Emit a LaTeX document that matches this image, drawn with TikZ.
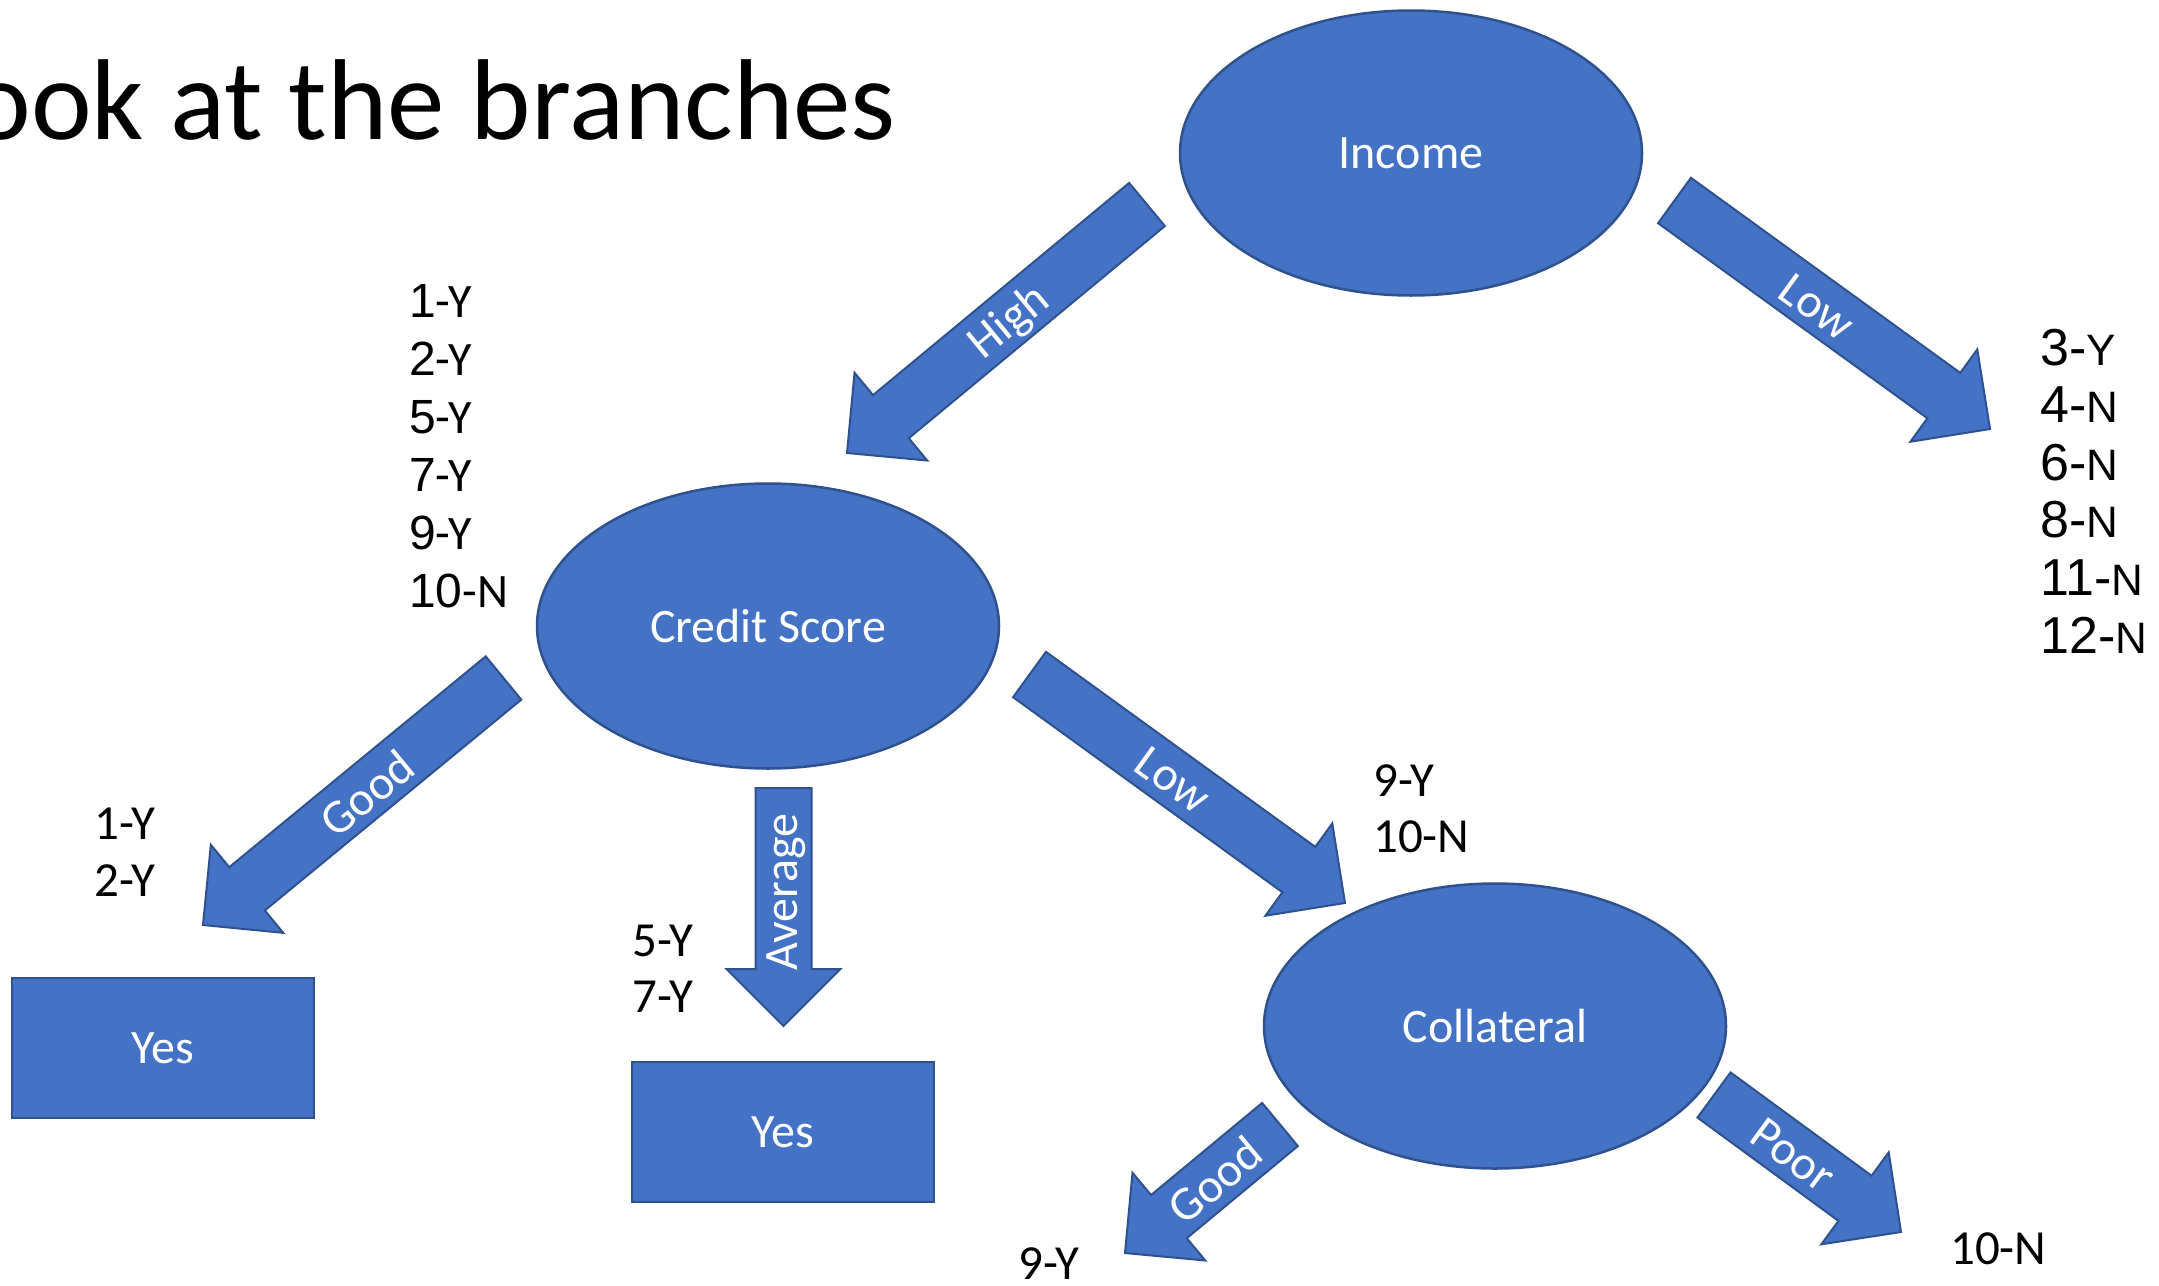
\documentclass[tikz,border=0pt]{standalone}
\usepackage{fontspec}
\setmainfont{Carlito}
\newfontfamily\arialf{Liberation Sans}
\usetikzlibrary{shapes.geometric,calc}

\definecolor{boxblue}{HTML}{4472C4}
\definecolor{edgeblue}{HTML}{2F528F}

% block arrow dimensions
\newcommand\ashaft{28pt}   % half shaft width
\newcommand\ahead{57pt}    % half head width
\newcommand\aheadlen{57pt} % head length

% filled block arrow from a tail coordinate #1 to a tip coordinate #2
\newcommand\blockarrow[2]{%
  \coordinate (#1h) at ($(#2)!\aheadlen!(#1)$);
  \filldraw[blockfill]
    ($(#1)!\ashaft!90:(#2)$) -- ($(#1h)!\ashaft!90:(#2)$) --
    ($(#1h)!\ahead!90:(#2)$) -- (#2) --
    ($(#1h)!\ahead!-90:(#2)$) -- ($(#1h)!\ashaft!-90:(#2)$) --
    ($(#1)!\ashaft!-90:(#2)$) -- cycle;
}

\tikzset{
  blockfill/.style={fill=boxblue, draw=edgeblue, line width=2pt, line join=miter},
  decision/.style={ellipse, fill=boxblue, draw=edgeblue, line width=2.5pt,
    minimum width=462pt, minimum height=285pt, inner sep=0pt,
    text=white, font=\fontsize{48}{58}\selectfont},
  leaf/.style={rectangle, fill=boxblue, draw=edgeblue, line width=2.5pt,
    minimum width=302pt, minimum height=140pt, inner sep=0pt,
    text=white, font=\fontsize{48}{58}\selectfont},
  arrowlabel/.style={text=white, inner sep=0pt, font=\fontsize{48}{58}\selectfont},
  count/.style={anchor=base west, inner sep=0pt, text=black, font=\fontsize{49}{58}\selectfont},
}

\begin{document}
\begin{tikzpicture}[x=1pt,y=-1pt]
\useasboundingbox (0,0) rectangle (2159,1285);
\clip (0,0) rectangle (2159,1285);
\fill[white] (0,0) rectangle (2159,1285);

% title
\node[anchor=base east, inner sep=0pt, font=\fontsize{115}{138}\selectfont] (title) at (896,139) {Look at the branches};

% decision nodes and leaves
\node[decision] (income) at (1411,153) {Income};
\node[decision] (credit) at (768,626) {Credit Score};
\node[decision] (collat) at (1495,1026) {Collateral};
\node[leaf] (yesA) at (163,1048) {Yes};
\node[leaf] (yesB) at (783,1132) {Yes};

% arrow tails and tips
\coordinate (hiT) at (1147,204.5);   \coordinate (hiP) at (847,453);
\coordinate (loT) at (1674.5,200.5); \coordinate (loP) at (1990,429);
\coordinate (gdT) at (503.5,678);    \coordinate (gdP) at (203,925);
\coordinate (avT) at (783.5,788);    \coordinate (avP) at (783.5,1026);
\coordinate (lcT) at (1029.5,674.5); \coordinate (lcP) at (1345,903);
\coordinate (gcT) at (1280,1124.5);  \coordinate (gcP) at (1125,1253);
\coordinate (poT) at (1714,1095);    \coordinate (poP) at (1901,1232);

\blockarrow{hiT}{hiP}
\blockarrow{loT}{loP}
\blockarrow{gdT}{gdP}
\blockarrow{avT}{avP}
\blockarrow{lcT}{lcP}
\blockarrow{gcT}{gcP}
\blockarrow{poT}{poP}

% branch labels
\node[arrowlabel, rotate=39.6]  (hiL) at (1010,323) {High};
\node[arrowlabel, rotate=-35.9] (loL) at (1817,307) {Low};
\node[arrowlabel, rotate=39.4]  (gdL) at (367,793) {Good};
\node[arrowlabel, rotate=90]    (avL) at (786,892) {Average};
\node[arrowlabel, rotate=-35.9] (lcL) at (1173,780) {Low};
\node[arrowlabel, rotate=39.7]  (gcL) at (1215,1180) {Good};
\node[arrowlabel, rotate=-36.2] (poL) at (1793,1155) {Poor};

% records reaching the credit score split
\foreach \n/\c [count=\k from 0] in {1/Y,2/Y,5/Y,7/Y,9/Y,10/N}
  \node[count, font=\fontsize{48}{58}\selectfont] (hiR\k) at (409,317+58*\k) {{\arialf\n}-\c};

% records on the low income branch
\foreach \n/\c [count=\k from 0] in {3/Y,4/N,6/N,8/N,11/N,12/N}
  \node[count, font=\fontsize{52}{62}\selectfont] (loR\k) at (2040,365+57.6*\k)
    {{\arialf\n-\fontsize{44}{52}\selectfont\c}};

% records at the lower branches
\node[count] (gdR0) at (94,839) {1-Y};
\node[count] (gdR1) at (94,896) {2-Y};
\node[count] (avR0) at (632,956) {5-Y};
\node[count] (avR1) at (632,1012) {7-Y};
\node[count] (lcR0) at (1373,796) {9-Y};
\node[count] (lcR1) at (1373,852) {10-N};
\node[count] (gcR0) at (1018,1279) {9-Y};
\node[count] (poR0) at (1950,1264) {10-N};
\end{tikzpicture}
\end{document}
